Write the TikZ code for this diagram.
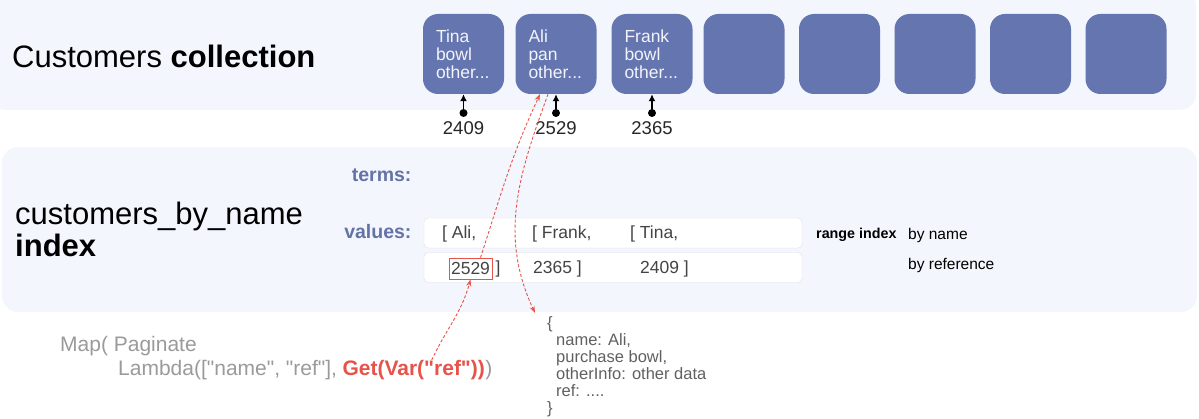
\documentclass[tikz,border=0pt]{standalone}
\usepackage{fontspec}
\setmainfont{Liberation Sans}[Ligatures=TeXOff]
\usetikzlibrary{positioning, arrows.meta}

\definecolor{panelbg}{HTML}{F3F6FD}
\definecolor{docblue}{HTML}{6575AF}
\definecolor{labelblue}{HTML}{6473A6}
\definecolor{refred}{HTML}{E5534B}
\definecolor{codegray}{HTML}{9A9A9A}
\definecolor{valgray}{HTML}{444444}

% straight double quote
\newcommand{\dq}{\symbol{34}}

\tikzset{
  panel/.style={fill=panelbg, draw=none, rounded corners=16pt},
  docbox/.style={fill=docblue, draw=none, rounded corners=15pt,
    minimum width=81pt, minimum height=80pt, text=white!92!docblue,
    font=\fontsize{17.5}{18}\selectfont, align=left, text width=55pt},
  refdot/.style={circle, fill=black, inner sep=0pt, minimum size=8pt},
  refnum/.style={font=\fontsize{18.5}{20}\selectfont, text=black!85},
  rowbox/.style={fill=white, draw=black!13, rounded corners=4pt,
    minimum width=378pt, minimum height=30pt},
  valtext/.style={font=\fontsize{17.5}{18}\selectfont, text=valgray, anchor=west, inner sep=0pt},
  fieldlabel/.style={font=\bfseries\fontsize{19.5}{22}\selectfont, text=labelblue, anchor=east},
  sidenote/.style={font=\fontsize{15.5}{16}\selectfont, anchor=west, inner sep=0pt},
  codetext/.style={font=\fontsize{21}{22}\selectfont, text=codegray, anchor=west, inner sep=0pt},
  redlink/.style={draw=refred, dashed, line width=0.9pt, dash pattern=on 3pt off 2pt,
    -{Stealth[length=7pt, width=5pt]}}
}

\begin{document}
\begin{tikzpicture}[x=1pt, y=-1pt]
    % Canvas
    \useasboundingbox (0,0) rectangle (1199,419);

    % Background panels
    \fill[panel] (-10,-10) rectangle (1196,110);
    \fill[panel] (2,147) rectangle (1197,312);

    % Collection title
    \node[anchor=west, inner sep=0pt, font=\fontsize{31}{36}\selectfont] (colltitle) at (12,56)
        {Customers \textbf{collection}};

    % Documents of the collection
    \node[docbox] (tina)  at (463.5,54) {Tina\\bowl\\other...};
    \node[docbox] (ali)   at (556,54)   {Ali\\pan\\other...};
    \node[docbox] (frank) at (652,54)   {Frank\\bowl\\other...};
    \foreach \i in {0,...,4}
        \node[docbox] (empty\i) at (744+95.5*\i,54) {};

    % References under the documents
    \node[refdot] (dtina)  at (463.5,113) {};
    \node[refdot] (dali)   at (556,113)   {};
    \node[refdot] (dfrank) at (652,113)   {};
    \foreach \d/\b in {dtina/tina, dali/ali, dfrank/frank}
        \draw[line width=1.6pt, -{Latex[length=7pt, width=7pt]}] (\d) -- (\b.south);
    \node[refnum] (ntina)  at (463.5,128) {2409};
    \node[refnum] (nali)   at (556,128)   {2529};
    \node[refnum] (nfrank) at (652,128)   {2365};

    % Index title
    \node[anchor=west, inner sep=0pt, font=\fontsize{31}{32}\selectfont, align=left] (idxtitle) at (15,229)
        {customers\_by\_name\\\textbf{index}};

    % Terms and values
    \node[fieldlabel] (terms)  at (415,175) {terms:};
    \node[fieldlabel] (values) at (415,232) {values:};
    \node[rowbox] (row1) at (613,233) {};
    \node[rowbox] (row2) at (613,267.5) {};
    \node[valtext] (v1a) at (442,234) {[ Ali,};
    \node[valtext] (v1b) at (532,234) {[ Frank,};
    \node[valtext] (v1c) at (630,234) {[ Tina,};
    \node[valtext] (v2b) at (533,269) {2365 ]};
    \node[valtext] (v2c) at (640,269) {2409 ]};
    \node[draw=refred, line width=0.8pt, minimum width=43pt, minimum height=21pt, inner sep=0pt,
        font=\fontsize{17.5}{18}\selectfont, text=valgray] (ref) at (470.5,268.5) {2529};
    \node[valtext, right=3pt of ref.east] (v2a) {]};

    % Notes on the right
    \node[sidenote, font=\bfseries\fontsize{14.3}{16}\selectfont] (range) at (816,235) {range index};
    \node[sidenote] (byname) at (908,235) {by name};
    \node[sidenote] (byref)  at (908,265) {by reference};

    % Query
    \node[codetext] (map)    at (60,346) {Map( Paginate};
    \node[codetext] (lambda) at (118,370) {Lambda([\dq name\dq, \dq ref\dq],};
    \node[codetext, text=refred, font=\bfseries\fontsize{21}{22}\selectfont, right=5pt of lambda.east] (get)
        {Get(Var(\dq ref\dq))};
    \node[codetext, right=0pt of get.east] (close) {)};

    % Resulting document
    \node[anchor=north west, inner sep=0pt, align=left, text=valgray!85,
        font=\fontsize{16.5}{17}\selectfont] (json) at (547,316)
        {\{\\
         \hspace*{9pt}name: Ali,\\
         \hspace*{9pt}purchase bowl,\\
         \hspace*{9pt}otherInfo: other data\\
         \hspace*{9pt}ref: ....\\
         \}};

    % Links between query, index and collection
    \draw[redlink] ([xshift=18pt]get.north) to[out=65, in=-105] (ref.south);
    \draw[redlink] ([xshift=10pt]ref.north) to[out=72, in=-115] ([xshift=-16pt]ali.south);
    \draw[redlink] ([xshift=-8pt]ali.south) to[out=-110, in=115] ([xshift=-12pt,yshift=3pt]json.north west);
\end{tikzpicture}
\end{document}
